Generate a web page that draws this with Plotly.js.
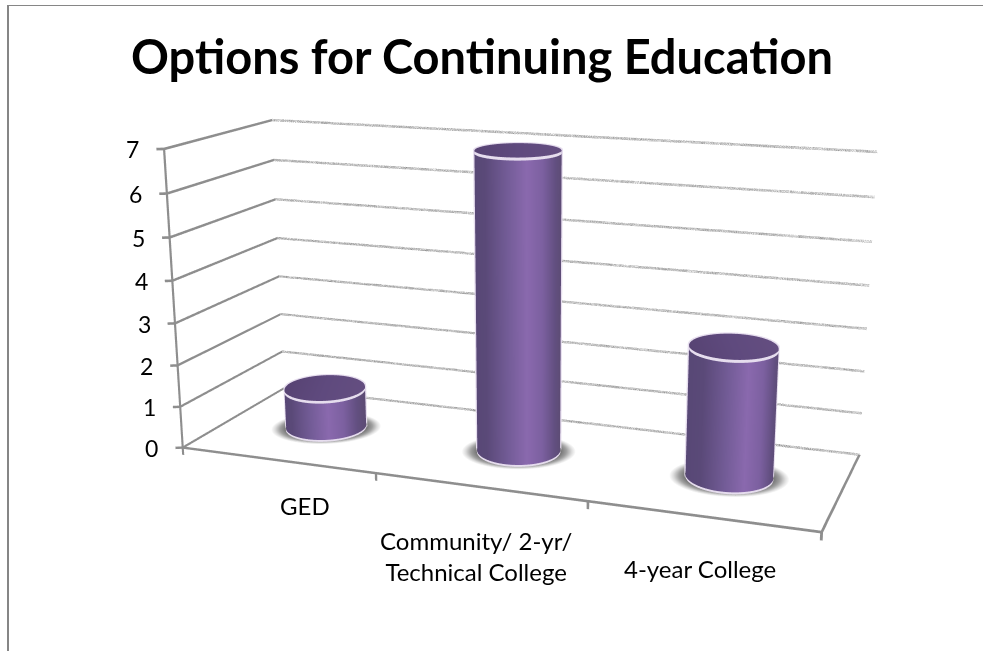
<!DOCTYPE html>
<html>
<head>
<meta charset="utf-8">
<script src="https://cdn.plot.ly/plotly-3.0.1.min.js"></script>
<style>
html,body{margin:0;padding:0;background:#fff;overflow:hidden;width:983px;height:651px}
#frame{position:absolute;left:0;top:0;width:983px;height:651px;overflow:hidden}
#chart{position:absolute;left:-1px;top:-323px;width:1050px;height:1325px}
</style>
</head>
<body>
<div id="frame"><div id="chart"></div></div>
<script>
// Chart content
const chartTitle = 'Options for Continuing Education';
const categories = ['GED', 'Community/ 2-yr/<br>Technical College', '4-year College'];
const values = [1, 7, 3];
const valueTicks = [0, 1, 2, 3, 4, 5, 6, 7];

// Category label offsets from the front floor edge, in pixels
const labelShiftX = [28, -3, -2];
const labelShiftY = [-45, -69, -52];

// Graph size and its offset inside the visible frame
const GW = 1050, GH = 1325, OX = 1, OY = 323;
const px = v => (v + OX) / GW;
const py = v => 1 - (v + OY) / GH;

// Length of one data unit along each axis, in scene units
const unit = {x: 0.29274, y: 0.28931, z: 0.05896};
const xRange = [-0.04, 3.02], yRange = [-0.02, 1], zRange = [-0.2, 7.05];
const mid = r => (r[0] + r[1]) / 2;
const span = r => r[1] - r[0];

// Camera orientation (rows: screen right, screen down, view direction) and offset
const viewRows = [
  [0.93843, 0.34548, -0.00129],
  [0.09229, -0.25429, -0.96271],
  [-0.33293, 0.90332, -0.27052]
];
const viewOffset = [-0.00748, -0.04630, 2.12795];
const rangeShift = [
  (mid(xRange) - 1.5) * unit.x,
  (mid(yRange) - 0.5) * unit.y,
  (mid(zRange) - 3.5) * unit.z
];
const eyeVec = [0, 1, 2].map(j =>
  -(viewRows[0][j] * viewOffset[0] + viewRows[1][j] * viewOffset[1] + viewRows[2][j] * viewOffset[2]) - rangeShift[j]);
const lookVec = eyeVec.map((v, j) => v + viewRows[2][j] * viewOffset[2]);
const toXYZ = a => ({x: a[0], y: a[1], z: a[2]});

const traces = [];
const surfaceStyle = {
  type: 'surface', showscale: false, hoverinfo: 'skip',
  contours: {x: {show: false}, y: {show: false}, z: {show: false}},
  lighting: {ambient: 1, diffuse: 0, specular: 0, roughness: 1, fresnel: 0}
};

// A straight line drawn as a flat ribbon, so its width holds in any renderer
function ribbon(a, b, off, color) {
  const row = s => [
    [a[0] + s * off[0], b[0] + s * off[0]],
    [a[1] + s * off[1], b[1] + s * off[1]],
    [a[2] + s * off[2], b[2] + s * off[2]]
  ];
  const lo = row(-1), hi = row(1);
  return Object.assign({}, surfaceStyle, {
    x: [lo[0], hi[0]], y: [lo[1], hi[1]], z: [lo[2], hi[2]],
    surfacecolor: [[0, 0], [0, 0]], cmin: 0, cmax: 1,
    colorscale: [[0, color], [1, color]]
  });
}

const gridColor = '#8e8e8e';
const zThick = [0, 0, 0.03], xThick = [0.0058, 0, 0];

// Walls, floor and tick marks
valueTicks.forEach(v => {
  traces.push(ribbon([0, 0, v], [0, 1, v], zThick, gridColor));
  traces.push(ribbon([0, 1, v], [3, 1, v], zThick, gridColor));
  traces.push(ribbon([0, 0, v], [-0.03, -0.015, v], zThick, gridColor));
});
traces.push(ribbon([0, 0, 0], [0, 0, 7], xThick, gridColor));
traces.push(ribbon([0, 0, 0], [3, 0, 0], zThick, gridColor));
traces.push(ribbon([3, 0, 0], [3, 1, 0], xThick, gridColor));
[0, 1, 2, 3].forEach(x => traces.push(ribbon([x, 0, 0], [x, 0, -0.18], xThick, gridColor)));

// Cylinders: rings are laid out square to the viewer, slightly stretched in depth
const radius = 0.0565, depthStretch = 1.1, cy = 0.5;
const N = 180;
const rightDir = [0.9384, 0.3455];
const awayDir = [-0.3458, 0.9383];
const rimColor = '#e6ddee';
const sideScale = [
  [0, '#584876'], [0.12, '#5a4978'], [0.38, '#735c97'],
  [0.6, '#8a69ae'], [0.78, '#7c60a0'], [0.93, '#624f80'], [1, '#5d4c75']
];
const capScale = [[0, '#574373'], [0.5, '#5f4a7e'], [1, '#644e80']];
const shadowScale = [[0, '#5a5a5a'], [0.7, '#666666'], [0.84, '#a0a0a0'], [0.93, '#dcdcdc'], [1, '#ffffff']];

values.forEach((value, i) => {
  const cx = i + 0.5;
  const ang = [];
  for (let k = 0; k <= N; k++) ang.push(2 * Math.PI * k / N);
  const ptX = (a, sr, sd) => cx + radius * (sr * Math.cos(a) * rightDir[0] + sd * depthStretch * Math.sin(a) * awayDir[0]) / unit.x;
  const ptY = (a, sr, sd) => cy + radius * (sr * Math.cos(a) * rightDir[1] + sd * depthStretch * Math.sin(a) * awayDir[1]) / unit.y;
  const ringX = s => ang.map(a => ptX(a, s, s));
  const ringY = s => ang.map(a => ptY(a, s, s));

  // Soft shadow on the floor
  const radii = [0, 0.3, 0.6, 0.75, 0.85, 0.93, 1];
  traces.push(Object.assign({}, surfaceStyle, {
    x: radii.map(r => ang.map(a => ptX(a, 1.38 * r, 1.16 * r))),
    y: radii.map(r => ang.map(a => ptY(a, 1.38 * r, 1.16 * r))),
    z: radii.map(() => ang.map(() => 0)),
    surfacecolor: radii.map(r => ang.map(() => r)),
    cmin: 0, cmax: 1, colorscale: shadowScale
  }));

  // Pale halo behind the silhouette: only the far half of a slightly wider shell
  const far = [];
  for (let k = 0; k <= N / 2; k++) far.push(-0.05 + (Math.PI + 0.1) * k / (N / 2));
  const haloX = far.map(a => ptX(a, 1.03, 1.03));
  const haloY = far.map(a => ptY(a, 1.03, 1.03));
  traces.push(Object.assign({}, surfaceStyle, {
    x: [haloX, haloX], y: [haloY, haloY],
    z: [far.map(() => 0.01), far.map(() => value + 0.02)],
    surfacecolor: [far.map(() => 0), far.map(() => 0)], cmin: 0, cmax: 1,
    colorscale: [[0, rimColor], [1, rimColor]]
  }));

  // Side wall, shaded across its visible width
  traces.push(Object.assign({}, surfaceStyle, {
    x: [ringX(1), ringX(1)], y: [ringY(1), ringY(1)],
    z: [ang.map(() => 0.01), ang.map(() => value)],
    surfacecolor: [0, 1].map(() => ang.map(a => (Math.cos(a) + 1) / 2)),
    cmin: 0, cmax: 1, colorscale: sideScale
  }));

  // Top cap
  const capR = [0, 0.5, 1];
  traces.push(Object.assign({}, surfaceStyle, {
    x: capR.map(r => ang.map(a => ptX(a, r, r))),
    y: capR.map(r => ang.map(a => ptY(a, r, r))),
    z: capR.map(() => ang.map(() => value)),
    surfacecolor: capR.map(r => ang.map(a => (r * Math.cos(a) + 1) / 2)),
    cmin: 0, cmax: 1, colorscale: capScale
  }));

  // Pale bands round the top edge and the base
  const band = (z0, z1) => Object.assign({}, surfaceStyle, {
    x: [ringX(1.012), ringX(1.012)], y: [ringY(1.012), ringY(1.012)],
    z: [ang.map(() => z0), ang.map(() => z1)],
    surfacecolor: [ang.map(() => 0), ang.map(() => 0)], cmin: 0, cmax: 1,
    colorscale: [[0, rimColor], [1, rimColor]]
  });
  traces.push(band(value - 0.05, value + 0.015));
  traces.push(band(0.005, 0.05));
});

// Tick labels through the scene's own annotation layer
const annotations = [];
valueTicks.forEach(v => annotations.push({
  x: -0.03, y: -0.015, z: v, text: String(v), showarrow: false,
  xanchor: 'right', yanchor: 'middle', xshift: -15, yshift: 0,
  font: {family: 'Lato, Carlito, sans-serif', size: 23, color: '#000'}
}));
categories.forEach((c, i) => annotations.push({
  x: i + 0.5, y: 0, z: 0, text: c, showarrow: false,
  xanchor: 'center', yanchor: 'middle', align: 'center',
  xshift: labelShiftX[i], yshift: labelShiftY[i],
  font: {family: 'Lato, Carlito, sans-serif', size: 24, color: '#000'}
}));

const hidden = r => ({range: r, autorange: false, visible: false, showgrid: false, zeroline: false,
  showbackground: false, showspikes: false, showticklabels: false, title: {text: ''}});

const layout = {
  width: GW, height: GH,
  margin: {l: 0, r: 0, t: 0, b: 0, pad: 0},
  paper_bgcolor: 'rgba(0,0,0,0)', plot_bgcolor: 'rgba(0,0,0,0)',
  showlegend: false,
  title: {
    text: '<b>' + chartTitle + '</b>', xref: 'paper', yref: 'paper',
    x: px(482), y: py(58), xanchor: 'center', yanchor: 'middle',
    font: {family: 'Lato, Carlito, sans-serif', size: 47, color: '#000'}
  },
  shapes: [
    {type: 'line', xref: 'paper', yref: 'paper', x0: px(7), x1: px(983), y0: py(5.5), y1: py(5.5), line: {color: '#868686', width: 1}},
    {type: 'line', xref: 'paper', yref: 'paper', x0: px(8), x1: px(8), y0: py(5), y1: py(651), line: {color: '#868686', width: 2}}
  ],
  scene: {
    domain: {x: [0, 1], y: [0, 1]},
    aspectmode: 'manual',
    aspectratio: {x: span(xRange) * unit.x, y: span(yRange) * unit.y, z: span(zRange) * unit.z},
    xaxis: hidden(xRange), yaxis: hidden(yRange), zaxis: hidden(zRange),
    camera: {
      eye: toXYZ(eyeVec), center: toXYZ(lookVec),
      up: {x: -viewRows[1][0], y: -viewRows[1][1], z: -viewRows[1][2]},
      projection: {type: 'perspective'}
    },
    annotations
  }
};

Plotly.newPlot('chart', traces, layout, {displayModeBar: false});
</script>
</body>
</html>
